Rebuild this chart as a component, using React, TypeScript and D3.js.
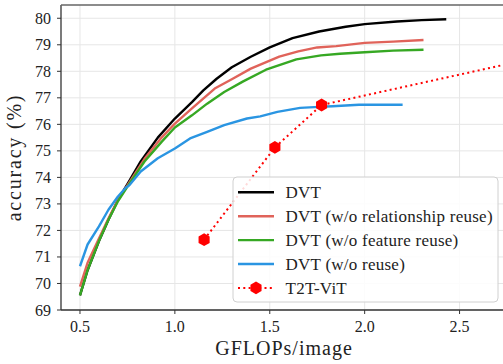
import * as d3 from "d3";

// GFLOPs / accuracy
const dvtX = [0.5, 0.54, 0.6, 0.65, 0.7, 0.75, 0.82, 0.91, 1.0, 1.09, 1.15, 1.22, 1.3, 1.4, 1.5, 1.62, 1.76, 1.9, 2.0, 2.17, 2.3, 2.43];
const dvtY = [69.55, 70.5, 71.6, 72.4, 73.15, 73.75, 74.6, 75.5, 76.22, 76.84, 77.28, 77.72, 78.15, 78.55, 78.9, 79.25, 79.5, 79.68, 79.78, 79.88, 79.93, 79.96];

const relX = [0.5, 0.54, 0.6, 0.65, 0.7, 0.75, 0.84, 0.93, 1.0, 1.09, 1.21, 1.3, 1.4, 1.55, 1.65, 1.75, 1.85, 2.0, 2.15, 2.31];
const relY = [69.88, 70.78, 71.7, 72.45, 73.15, 73.7, 74.7, 75.5, 76.03, 76.6, 77.35, 77.7, 78.1, 78.55, 78.75, 78.9, 78.95, 79.07, 79.12, 79.18];

const featX = [0.5, 0.54, 0.6, 0.65, 0.7, 0.75, 0.84, 0.93, 1.0, 1.09, 1.17, 1.26, 1.36, 1.48, 1.64, 1.77, 1.87, 2.0, 2.15, 2.31];
const featY = [69.55, 70.5, 71.6, 72.4, 73.1, 73.65, 74.6, 75.34, 75.88, 76.34, 76.78, 77.22, 77.62, 78.06, 78.45, 78.6, 78.66, 78.72, 78.78, 78.81];

const noReuseX = [0.5, 0.54, 0.6, 0.65, 0.7, 0.74, 0.76, 0.82, 0.91, 1.0, 1.08, 1.17, 1.26, 1.38, 1.45, 1.54, 1.66, 1.76, 1.83, 1.97, 2.06, 2.2];
const noReuseY = [70.65, 71.47, 72.15, 72.78, 73.28, 73.6, 73.7, 74.22, 74.72, 75.09, 75.47, 75.72, 75.97, 76.22, 76.3, 76.47, 76.62, 76.66, 76.68, 76.74, 76.74, 76.74];

const t2tX = [1.154, 1.527, 1.773, 4.8];
const t2tY = [71.65, 75.13, 76.73, 81.5];

const xTicks = [0.5, 1.0, 1.5, 2.0, 2.5];
const yTicks = [69, 70, 71, 72, 73, 74, 75, 76, 77, 78, 79, 80];

const series = [
  { name: "DVT", xs: dvtX, ys: dvtY, color: "#000000" },
  { name: "DVT (w/o relationship reuse)", xs: relX, ys: relY, color: "#e0635a" },
  { name: "DVT (w/o feature reuse)", xs: featX, ys: featY, color: "#36a823" },
  { name: "DVT (w/o reuse)", xs: noReuseX, ys: noReuseY, color: "#2a95e2" },
];

const W = 503;
const H = 364;
const margin = { top: 5, right: -4, bottom: 54, left: 61 };
const FONT = '"Liberation Serif", "DejaVu Serif", serif';

function hexagon(cx: number, cy: number, r: number) {
  const pts = d3.range(6).map((k) => {
    const a = Math.PI / 2 + (k * Math.PI) / 3;
    return `${cx + r * Math.cos(a)},${cy - r * Math.sin(a)}`;
  });
  return pts.join(" ");
}

export default function App() {
  const x = d3.scaleLinear().domain([0.4, 2.75]).range([margin.left, W - margin.right]);
  const y = d3.scaleLinear().domain([69, 80.5]).range([H - margin.bottom, margin.top]);

  const line = d3
    .line<[number, number]>()
    .x((d) => x(d[0]))
    .y((d) => y(d[1]));

  const x0 = margin.left;
  const x1 = W - margin.right;
  const y0 = H - margin.bottom;
  const y1 = margin.top;

  const legendX = 233;
  const legendY = 177;
  const rowH = 23.9;
  const legendRows = [...series.map((s) => ({ name: s.name, color: s.color, t2t: false })), { name: "T2T-ViT", color: "#ff0000", t2t: true }];

  return (
    <div style={{ position: "fixed", left: 0, top: 0 }}>
      <svg width={W} height={H} style={{ display: "block", background: "#fff", fontFamily: FONT }}>
        <defs>
          <clipPath id="plot">
            <rect x={x0} y={y1} width={x1 - x0} height={y0 - y1} />
          </clipPath>
        </defs>

        {/* grid */}
        <g stroke="#e6e6e6" strokeWidth={1}>
          {xTicks.map((t) => (
            <line key={"gx" + t} x1={x(t)} x2={x(t)} y1={y1} y2={y0} />
          ))}
          {yTicks.map((t) => (
            <line key={"gy" + t} x1={x0} x2={x1} y1={y(t)} y2={y(t)} />
          ))}
        </g>

        {/* curves */}
        <g clipPath="url(#plot)" fill="none" strokeLinejoin="round">
          {series.map((s) => (
            <path
              key={s.name}
              d={line(s.xs.map((v, i) => [v, s.ys[i]] as [number, number])) || ""}
              stroke={s.color}
              strokeWidth={2.4}
            />
          ))}
          <path
            d={line(t2tX.map((v, i) => [v, t2tY[i]] as [number, number])) || ""}
            stroke="#ff0000"
            strokeWidth={2}
            strokeDasharray="2,3.3"
          />
          {t2tX.map((v, i) => (
            <polygon key={"m" + i} points={hexagon(x(v), y(t2tY[i]), 6.4)} fill="#ff0000" />
          ))}
        </g>

        {/* spines */}
        <g stroke="#333" strokeWidth={1.3} fill="none">
          <line x1={x0} x2={x0} y1={y1} y2={y0} />
          <line x1={x0} x2={x1} y1={y0} y2={y0} />
          <line x1={x0} x2={x1} y1={y1} y2={y1} stroke="#666" />
        </g>

        {/* ticks */}
        <g stroke="#333" strokeWidth={1}>
          {xTicks.map((t) => (
            <line key={"tx" + t} x1={x(t)} x2={x(t)} y1={y0} y2={y0 + 4} />
          ))}
          {yTicks.map((t) => (
            <line key={"ty" + t} x1={x0 - 4} x2={x0} y1={y(t)} y2={y(t)} />
          ))}
        </g>
        <g fontSize={16} fill="#222">
          {xTicks.map((t) => (
            <text key={"lx" + t} x={x(t)} y={y0 + 22} textAnchor="middle">
              {d3.format(".1f")(t)}
            </text>
          ))}
          {yTicks.map((t) => (
            <text key={"ly" + t} x={x0 - 10} y={y(t) + 5.5} textAnchor="end">
              {t}
            </text>
          ))}
        </g>

        {/* axis labels */}
        <text x={(x0 + 507) / 2} y={355} textAnchor="middle" fontSize={20} letterSpacing={1} fill="#222">
          GFLOPs/image
        </text>
        <text
          transform={`translate(21,${(y0 + y1) / 2}) rotate(-90)`}
          textAnchor="middle"
          fontSize={20}
          letterSpacing={1.8}
          fill="#222"
        >
          accuracy (%)
        </text>

        {/* legend */}
        <rect x={legendX} y={legendY} width={265} height={125} rx={4} fill="#fff" fillOpacity={0.85} stroke="#d0d0d0" />
        {legendRows.map((r, i) => {
          const cy = legendY + 15.3 + i * rowH;
          return (
            <g key={r.name}>
              {r.t2t ? (
                <>
                  <line x1={238} x2={274} y1={cy} y2={cy} stroke="#ff0000" strokeWidth={2} strokeDasharray="2,3.3" />
                  <polygon points={hexagon(256, cy, 6.4)} fill="#ff0000" />
                </>
              ) : (
                <line x1={238} x2={274} y1={cy} y2={cy} stroke={r.color} strokeWidth={2.4} />
              )}
              <text x={285.5} y={cy + 5.8} fontSize={17} letterSpacing={0.25} fill="#222">
                {r.name}
              </text>
            </g>
          );
        })}
      </svg>
    </div>
  );
}
